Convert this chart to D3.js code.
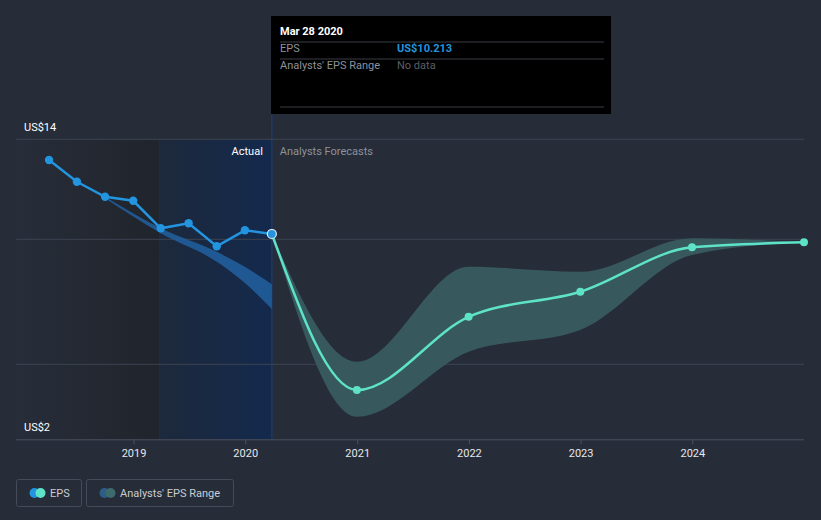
<!DOCTYPE html>
<html>
<head>
<meta charset="utf-8">
<script src="https://cdn.jsdelivr.net/npm/d3@7"></script>
<style>
  html, body { margin: 0; padding: 0; background: #262c38; }
  svg { display: block; font-family: Roboto, "Noto Sans", sans-serif; }
</style>
</head>
<body>
<svg id="chart" width="821" height="520"></svg>
<script>
// ---- data ----
const actualDates = ["2018-03-31","2018-06-30","2018-09-30","2018-12-31","2019-03-31","2019-06-30","2019-09-30","2019-12-31","2020-03-28"];
const actualEps   = [13.17, 12.30, 11.70, 11.54, 10.44, 10.64, 9.72, 10.36, 10.213];

const pastRangeDates = ["2018-09-30","2019-03-31","2019-09-30","2019-12-31","2020-03-28"];
const pastRangeLow   = [11.64, 10.24, 9.10, 8.25, 7.21];
const pastRangeHigh  = [11.70, 10.44, 9.50, 8.90, 8.20];

const forecastDates = ["2020-03-28","2020-12-31","2021-12-31","2022-12-31","2023-12-31","2024-12-31"];
const forecastEps   = [10.213, 3.97, 6.90, 7.90, 9.68, 9.88];
const forecastLow   = [10.213, 2.90, 5.50, 6.37, 9.37, 9.88];
const forecastHigh  = [10.213, 5.10, 8.90, 8.70, 10.04, 9.88];

const yearTicks = [2019, 2020, 2021, 2022, 2023, 2024];
const yGridValues = [14, 10, 5];
const yLabelValues = [14, 2];

const tooltipDate = "Mar 28 2020";
const tooltipEps = "US$10.213";

// ---- setup ----
const parse = d3.timeParse("%Y-%m-%d");
const svg = d3.select("#chart");
const W = 821, H = 520;

const x = d3.scaleTime()
  .domain([parse("2017-12-13"), parse("2024-12-31")])
  .range([16, 804]);
const y = d3.scaleLinear().domain([2, 14]).range([439.3, 139.3]);

const lastActual = parse(actualDates[actualDates.length - 1]);
const oneYearBefore = parse("2019-03-28");

svg.append("rect").attr("width", W).attr("height", H).attr("fill", "#262c38");

const defs = svg.append("defs");
const g1 = defs.append("linearGradient").attr("id", "pastDark").attr("x1", 0).attr("x2", 1).attr("y1", 0).attr("y2", 0);
g1.append("stop").attr("offset", "0%").attr("stop-color", "#272d39");
g1.append("stop").attr("offset", "100%").attr("stop-color", "#20242c");
const g2 = defs.append("linearGradient").attr("id", "pastBlue").attr("x1", 0).attr("x2", 1).attr("y1", 0).attr("y2", 0);
g2.append("stop").attr("offset", "0%").attr("stop-color", "#1d293b");
g2.append("stop").attr("offset", "100%").attr("stop-color", "#13294d");

// shaded regions
svg.append("rect")
  .attr("x", x.range()[0]).attr("y", y(14))
  .attr("width", x(oneYearBefore) - x.range()[0]).attr("height", y(2) - y(14))
  .attr("fill", "url(#pastDark)");
svg.append("rect")
  .attr("x", x(oneYearBefore)).attr("y", y(14))
  .attr("width", x(lastActual) - x(oneYearBefore)).attr("height", y(2) - y(14))
  .attr("fill", "url(#pastBlue)");
svg.append("line")
  .attr("x1", x(oneYearBefore)).attr("x2", x(oneYearBefore))
  .attr("y1", y(14)).attr("y2", y(2))
  .attr("stroke", "#1c3050").attr("stroke-width", 1);
svg.append("line")
  .attr("x1", x(lastActual)).attr("x2", x(lastActual))
  .attr("y1", 114).attr("y2", y(2))
  .attr("stroke", "#1d3a66").attr("stroke-width", 1.5);

// gridlines
svg.append("g").selectAll("line").data(yGridValues).join("line")
  .attr("x1", 16).attr("x2", 804)
  .attr("y1", d => y(d)).attr("y2", d => y(d))
  .attr("stroke", "#3d4452").attr("stroke-width", 1);

// y labels
svg.append("g").selectAll("text").data(yLabelValues).join("text")
  .attr("x", 24).attr("y", d => y(d) - 8)
  .attr("fill", "#ffffff").attr("font-size", 11)
  .text(d => "US$" + d);

// x axis
const xAxis = d3.axisBottom(x)
  .tickValues(yearTicks.map(yr => new Date(yr, 0, 1)))
  .tickFormat(d3.timeFormat("%Y"))
  .tickSize(5).tickPadding(5);
const ax = svg.append("g").attr("transform", `translate(0,${y(2)})`).call(xAxis);
ax.select(".domain").attr("stroke", "#4a5160").attr("d", `M16,0.5H804`);
ax.selectAll(".tick line").attr("stroke", "#4a5160");
ax.selectAll(".tick text").attr("fill", "#e6e8eb").attr("font-size", 11).attr("font-family", "Roboto, sans-serif");

// past range band
const pastBand = pastRangeDates.map((d, i) => ({ d: parse(d), lo: pastRangeLow[i], hi: pastRangeHigh[i] }));
svg.append("path").datum(pastBand)
  .attr("fill", "#2160a0").attr("opacity", 0.85)
  .attr("d", d3.area().curve(d3.curveMonotoneX).x(p => x(p.d)).y0(p => y(p.lo)).y1(p => y(p.hi)));

// forecast band
const fBand = forecastDates.map((d, i) => ({ d: parse(d), lo: forecastLow[i], hi: forecastHigh[i], v: forecastEps[i] }));
svg.append("path").datum(fBand)
  .attr("fill", "#37595d")
  .attr("d", d3.area().curve(d3.curveMonotoneX).x(p => x(p.d)).y0(p => y(p.lo)).y1(p => y(p.hi)));

// forecast line
svg.append("path").datum(fBand)
  .attr("fill", "none").attr("stroke", "#5ee2c8").attr("stroke-width", 2.5)
  .attr("d", d3.line().curve(d3.curveMonotoneX).x(p => x(p.d)).y(p => y(p.v)));
svg.append("g").selectAll("circle").data(fBand.slice(1)).join("circle")
  .attr("cx", p => x(p.d)).attr("cy", p => y(p.v)).attr("r", 4)
  .attr("fill", "#5ee2c8");

// actual line
const act = actualDates.map((d, i) => ({ d: parse(d), v: actualEps[i] }));
svg.append("path").datum(act)
  .attr("fill", "none").attr("stroke", "#2394df").attr("stroke-width", 2.5)
  .attr("d", d3.line().x(p => x(p.d)).y(p => y(p.v)));
svg.append("g").selectAll("circle").data(act.slice(0, -1)).join("circle")
  .attr("cx", p => x(p.d)).attr("cy", p => y(p.v)).attr("r", 4.2)
  .attr("fill", "#2394df");
const lastPt = act[act.length - 1];
svg.append("circle").attr("cx", x(lastPt.d)).attr("cy", y(lastPt.v)).attr("r", 4.5)
  .attr("fill", "#2394df").attr("stroke", "#e6eef8").attr("stroke-width", 1.2);

// Actual / Forecasts labels
svg.append("text").attr("x", x(lastActual) - 9).attr("y", 155)
  .attr("text-anchor", "end").attr("fill", "#ffffff").attr("font-size", 11).text("Actual");
svg.append("text").attr("x", x(lastActual) + 8).attr("y", 155)
  .attr("fill", "#8d929b").attr("font-size", 11).text("Analysts Forecasts");

// tooltip
const tt = svg.append("g").attr("transform", "translate(271,16)");
tt.append("rect").attr("width", 340).attr("height", 98).attr("fill", "#000000");
tt.append("text").attr("x", 9).attr("y", 19).attr("fill", "#ffffff").attr("font-size", 11).attr("font-weight", "bold").text(tooltipDate);
tt.append("line").attr("x1", 9).attr("x2", 333).attr("y1", 26).attr("y2", 26).attr("stroke", "#3a3d42");
tt.append("text").attr("x", 9).attr("y", 36).attr("fill", "#8d929b").attr("font-size", 11).text("EPS");
tt.append("text").attr("x", 126).attr("y", 36).attr("fill", "#2394df").attr("font-size", 11).attr("font-weight", "bold").text(tooltipEps);
tt.append("line").attr("x1", 9).attr("x2", 333).attr("y1", 43).attr("y2", 43).attr("stroke", "#3a3d42");
tt.append("text").attr("x", 9).attr("y", 53).attr("fill", "#8d929b").attr("font-size", 11).text("Analysts' EPS Range");
tt.append("text").attr("x", 126).attr("y", 53).attr("fill", "#5b5f66").attr("font-size", 11).text("No data");
tt.append("line").attr("x1", 9).attr("x2", 333).attr("y1", 91).attr("y2", 91).attr("stroke", "#3a3d42");

// legend
const leg = svg.append("g");
const legItems = [
  { label: "EPS", x: 16, w: 65, c1: "#2394df", c2: "#5ee2c8" },
  { label: "Analysts' EPS Range", x: 86, w: 147, c1: "#2e5d88", c2: "#3d6b6b" }
];
legItems.forEach(it => {
  const gi = leg.append("g").attr("transform", `translate(${it.x},479)`);
  gi.append("rect").attr("x", 0.5).attr("y", 0.5).attr("width", it.w).attr("height", 27).attr("rx", 2)
    .attr("fill", "none").attr("stroke", "#454c59");
  gi.append("circle").attr("cx", 39 - 22 - 0.5 + 18 - 16, ).attr("cy", 14).attr("r", 5).attr("fill", it.c1);
  gi.append("circle").attr("cx", 39 - 22 - 0.5 + 18 - 10).attr("cy", 14).attr("r", 5).attr("fill", it.c2);
  gi.append("text").attr("x", 34).attr("y", 18).attr("fill", "#c9ccd1").attr("font-size", 11).text(it.label);
});
</script>
</body>
</html>
